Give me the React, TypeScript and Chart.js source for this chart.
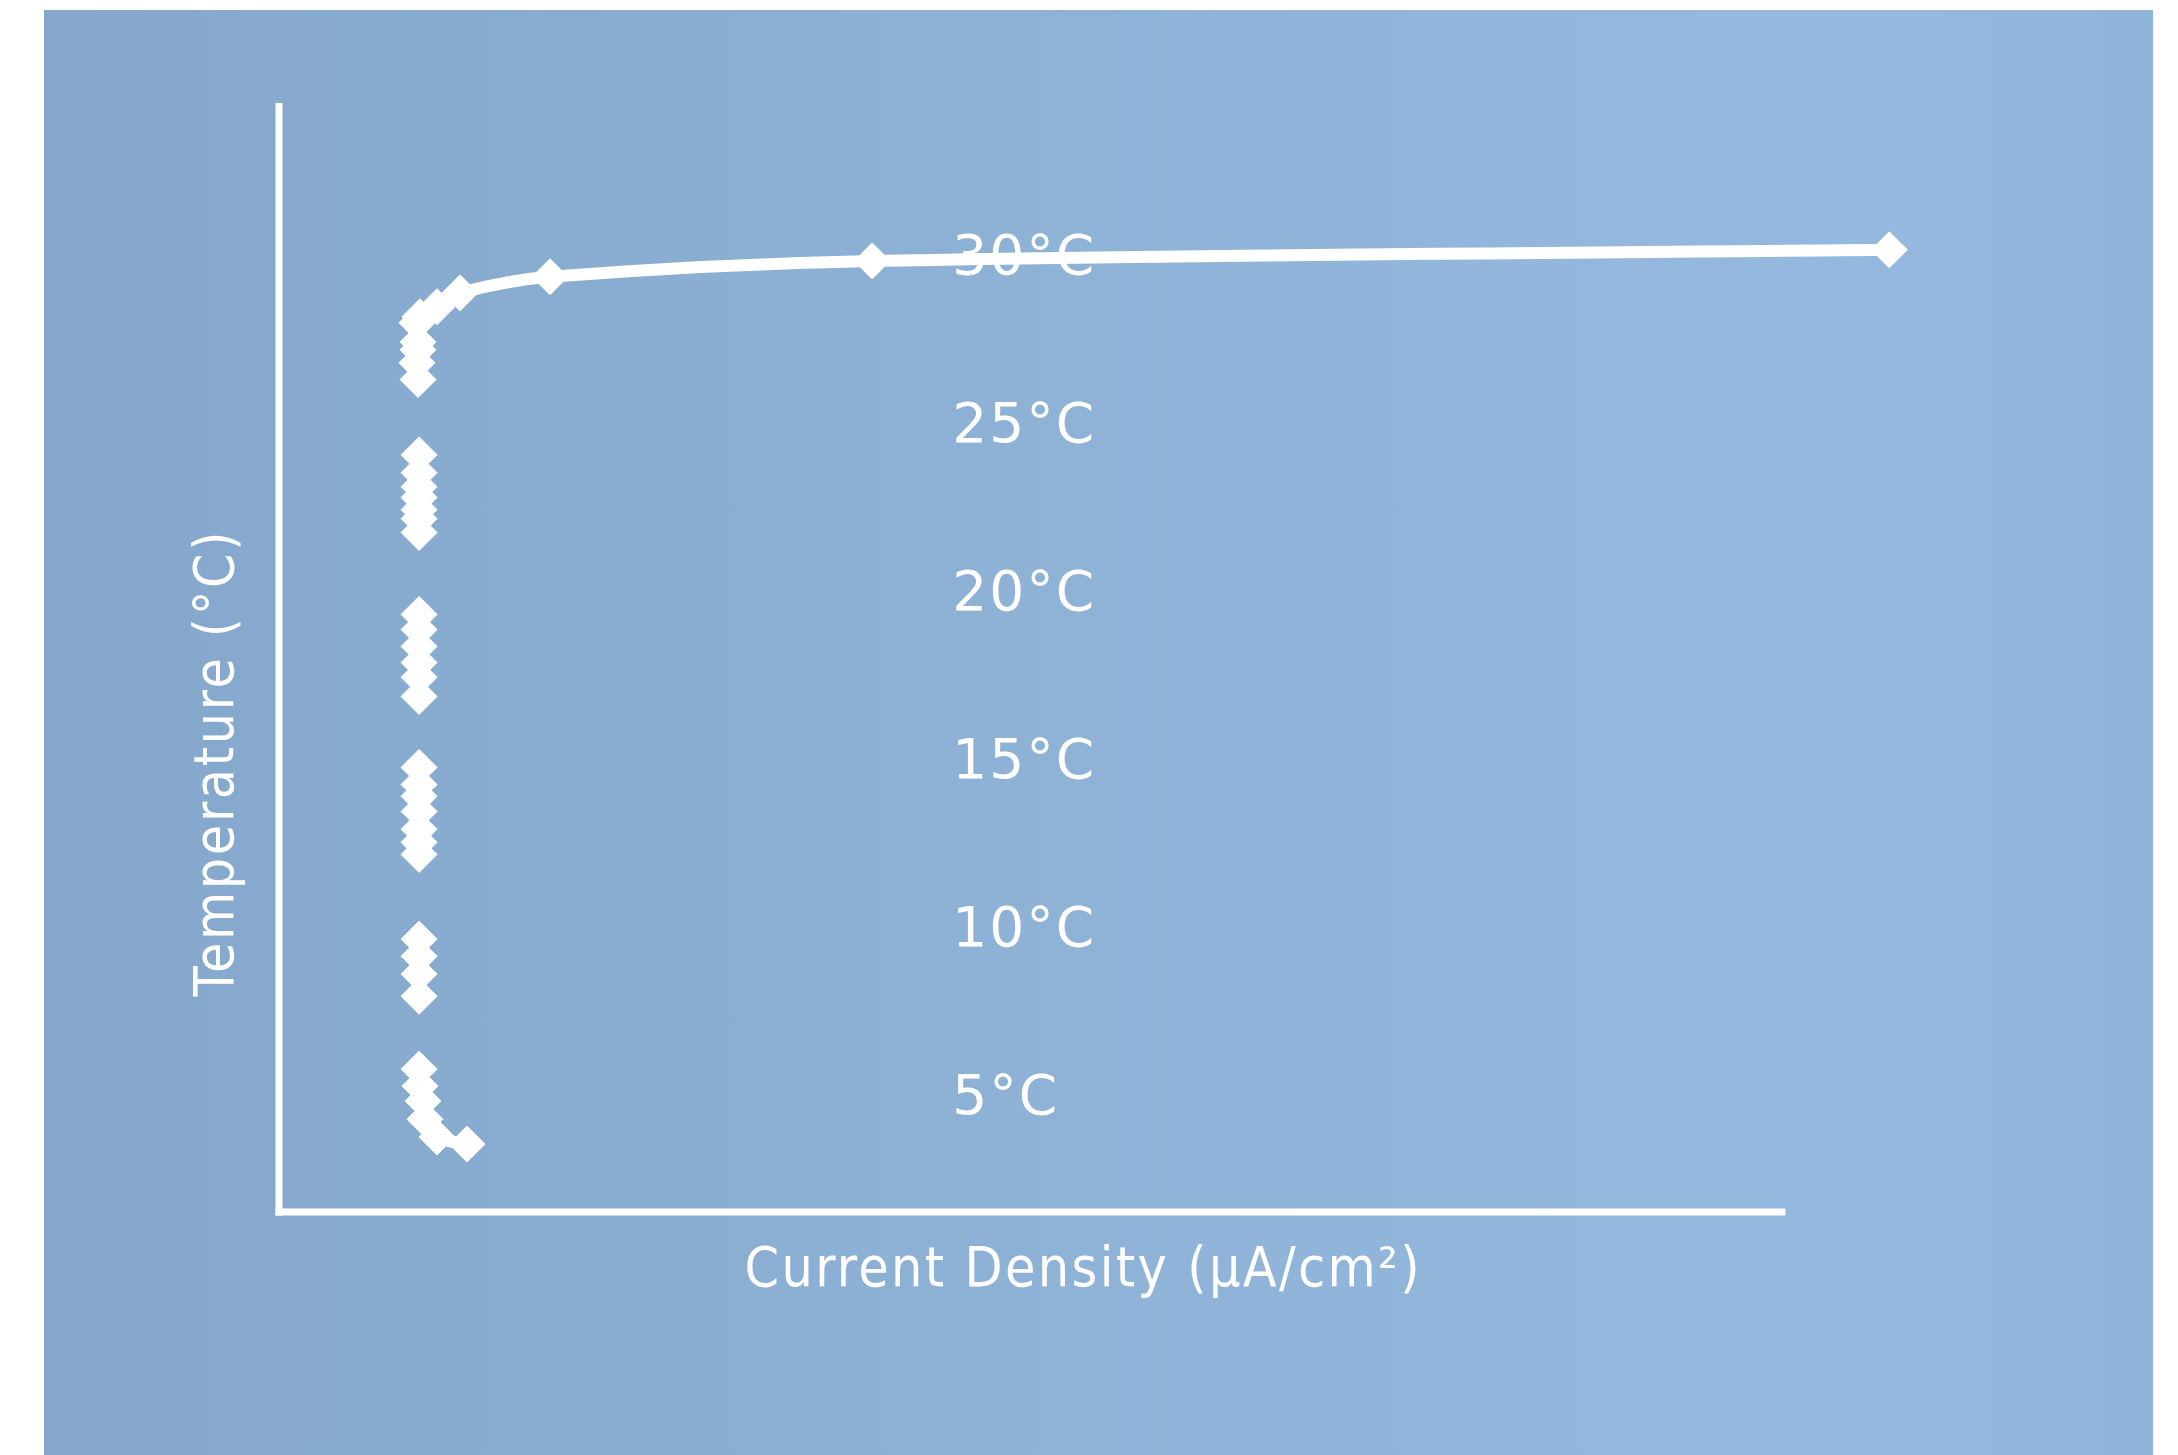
import React, { useEffect, useRef } from 'react';
import { Chart, registerables } from 'chart.js';

Chart.register(...registerables);

// Temperature axis labels (°C)
const temperatureTicks = [5, 10, 15, 20, 25, 30];
const temperatureTickLabels = ['5°C', '10°C', '15°C', '20°C', '25°C', '30°C'];

// Measured points: current density (μA/cm², relative units) vs temperature (°C)
const t5Density = [9.3, 9.36, 9.56, 9.69, 10.49, 12.48];
const t5Temp = [5.75, 5.25, 4.8, 4.26, 3.73, 3.52];

const t10Density = [9.3, 9.3, 9.3, 9.3];
const t10Temp = [9.62, 9.11, 8.58, 7.92];

const t15Density = [9.3, 9.3, 9.3, 9.3, 9.3, 9.3, 9.3];
const t15Temp = [14.73, 14.22, 13.87, 13.42, 12.89, 12.5, 12.14];

const t20Density = [9.3, 9.3, 9.3, 9.3, 9.3, 9.3];
const t20Temp = [19.28, 18.83, 18.33, 17.85, 17.41, 16.84];

const t25Density = [9.3, 9.3, 9.3, 9.3, 9.3, 9.3, 9.3];
const t25Temp = [24.03, 23.5, 23.08, 22.76, 22.4, 22.13, 21.72];

const t30Density = [9.23, 9.16, 9.23, 9.23, 9.16, 9.36, 10.49, 12.02, 17.99, 39.38, 106.9];
const t30Temp = [26.27, 26.77, 27.16, 27.39, 27.96, 28.14, 28.44, 28.85, 29.33, 29.8, 30.13];

const xMin = 0;
const xMax = 110;
const xAxisEnd = 100;
const yMin = 1.5;
const yMax = 34.5;
const tempLabelX = 44.7;

const xTitle = 'Current Density (μA/cm²)';
const yTitle = 'Temperature (°C)';

const toPoints = (xs: number[], ys: number[]) => xs.map((x, i) => ({ x, y: ys[i] }));

const TITLE_FONT = '55px "Liberation Sans Narrow", "DejaVu Sans Condensed", "Liberation Sans", sans-serif';
const LABEL_FONT = '55px "DejaVu Sans", sans-serif';

function fitSpacing(ctx: CanvasRenderingContext2D, text: string, targetWidth: number) {
  (ctx as any).letterSpacing = '0px';
  const w = ctx.measureText(text).width;
  const n = Array.from(text).length;
  const ls = Math.max(0, (targetWidth - w) / Math.max(1, n - 1));
  (ctx as any).letterSpacing = ls + 'px';
}

const decorPlugin = {
  id: 'decor',
  beforeDatasetsDraw(chart: any) {
    const { ctx, scales } = chart;
    const xs = scales.x;
    const ys = scales.y;
    const x0 = xs.getPixelForValue(xMin);
    const xEnd = xs.getPixelForValue(xAxisEnd);
    const yTop = ys.getPixelForValue(yMax);
    const yBottom = ys.getPixelForValue(yMin);
    ctx.save();
    ctx.fillStyle = '#ffffff';
    // y axis
    ctx.fillRect(x0 - 3.5, yTop, 7, yBottom - yTop + 3.5);
    // x axis
    ctx.fillRect(x0 - 3.5, yBottom - 3.5, xEnd - x0 + 3.5, 7);
    ctx.restore();
  },
  afterDatasetsDraw(chart: any) {
    const { ctx, scales } = chart;
    const xs = scales.x;
    const ys = scales.y;
    ctx.save();
    ctx.fillStyle = '#ffffff';
    ctx.textBaseline = 'alphabetic';

    // temperature labels
    ctx.font = LABEL_FONT;
    ctx.textAlign = 'left';
    (ctx as any).letterSpacing = '2px';
    temperatureTicks.forEach((t, i) => {
      const px = xs.getPixelForValue(tempLabelX);
      const py = ys.getPixelForValue(t);
      ctx.fillText(temperatureTickLabels[i], px, py + 20);
    });

    // x title
    ctx.font = TITLE_FONT;
    ctx.textAlign = 'left';
    const xTitleWidth = 675;
    fitSpacing(ctx, xTitle, xTitleWidth);
    const xCenter = 1038;
    ctx.fillText(xTitle, xCenter - xTitleWidth / 2, 1276);

    // y title
    const yTitleWidth = 465;
    ctx.translate(189, 754);
    ctx.rotate(-Math.PI / 2);
    fitSpacing(ctx, yTitle, yTitleWidth);
    ctx.fillText(yTitle, -yTitleWidth / 2, 0);
    ctx.restore();
  },
};

export default function App() {
  const canvasRef = useRef<HTMLCanvasElement | null>(null);

  useEffect(() => {
    const canvas = canvasRef.current;
    if (!canvas) return;
    const seriesStyle = {
      showLine: true,
      borderColor: '#ffffff',
      backgroundColor: '#ffffff',
      borderWidth: 12,
      tension: 0.35,
      pointStyle: 'rectRot' as const,
      pointRadius: 18,
      pointBorderWidth: 1,
      pointBorderColor: '#ffffff',
      pointBackgroundColor: '#ffffff',
      clip: false as const,
    };
    const chart = new Chart(canvas, {
      type: 'scatter',
      data: {
        datasets: [
          { label: '5°C', data: toPoints(t5Density, t5Temp), ...seriesStyle },
          { label: '10°C', data: toPoints(t10Density, t10Temp), ...seriesStyle },
          { label: '15°C', data: toPoints(t15Density, t15Temp), ...seriesStyle },
          { label: '20°C', data: toPoints(t20Density, t20Temp), ...seriesStyle },
          { label: '25°C', data: toPoints(t25Density, t25Temp), ...seriesStyle },
          { label: '30°C', data: toPoints(t30Density, t30Temp), ...seriesStyle },
        ],
      },
      options: {
        responsive: false,
        animation: false,
        layout: { padding: { left: 235, right: 217, top: 93, bottom: 243 } },
        plugins: {
          legend: { display: false },
          tooltip: { enabled: false },
          title: { display: false },
        },
        scales: {
          x: { type: 'linear', min: xMin, max: xMax, display: false },
          y: { type: 'linear', min: yMin, max: yMax, display: false },
        },
      },
      plugins: [decorPlugin],
    });
    return () => chart.destroy();
  }, []);

  return (
    <div
      style={{
        position: 'absolute',
        left: 44,
        top: 10,
        width: 2109,
        height: 1445,
        background:
          'linear-gradient(90deg, #84a7cb 0%, #89acd1 25%, #8fb2d7 50%, #94b7dd 75%, #95b8de 88%, #90b4da 100%)',
      }}
    >
      <canvas ref={canvasRef} width={2109} height={1445} style={{ width: 2109, height: 1445, display: 'block' }} />
    </div>
  );
}
